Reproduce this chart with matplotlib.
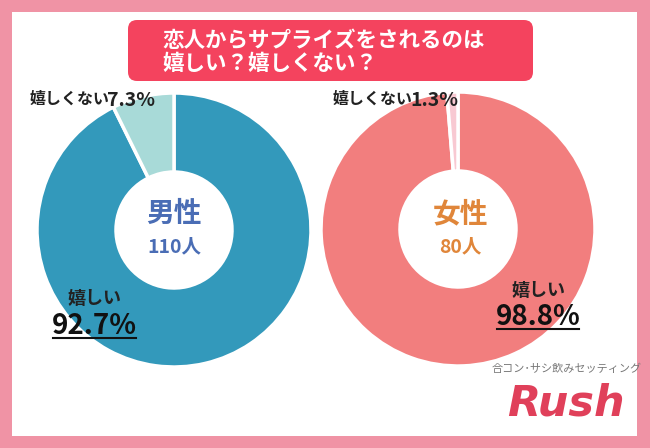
import matplotlib
matplotlib.use("Agg")
import matplotlib.pyplot as plt
from matplotlib.patches import FancyBboxPatch, Rectangle

plt.rcParams['font.family'] = ['Noto Sans CJK JP', 'DejaVu Sans']

title = "恋人からサプライズをされるのは\n嬉しい？嬉しくない？"
groups = ["男性", "女性"]
counts = ["110人", "80人"]
labels = ["嬉しい", "嬉しくない"]
male_values = [92.7, 7.3]
female_values = [98.8, 1.3]
male_colors = ["#3399BB", "#A8DAD8"]
female_colors = ["#F27E7E", "#F8C9D2"]

W, H = 650, 448
fig = plt.figure(figsize=(W / 100, H / 100), dpi=100)
fig.patch.set_facecolor("#F093A5")
ax = fig.add_axes([0, 0, 1, 1])
ax.set_xlim(0, W)
ax.set_ylim(0, H)
ax.set_aspect('equal')
ax.axis('off')

def Y(y):
    return H - y

# white panel
ax.add_patch(Rectangle((12, Y(436)), 625, 424, facecolor="white", edgecolor="none", zorder=0))

# title box
ax.add_patch(FancyBboxPatch((128, Y(81)), 405, 61, boxstyle="round,pad=0,rounding_size=9",
                            facecolor="#F4435E", edgecolor="none", zorder=1))
ax.text(162, Y(52), title, ha="left", va="center", color="white", fontsize=15.5,
        fontweight="bold", linespacing=1.1, zorder=2)

R, r = 137, 58
centers = [(174, Y(230)), (458, Y(229))]
for (cx, cy), vals, cols in zip(centers, [male_values, female_values], [male_colors, female_colors]):
    ax.pie(vals, colors=cols, startangle=90, counterclock=False, center=(cx, cy), radius=R,
           wedgeprops=dict(width=R - r, edgecolor="white", linewidth=2.5), frame=True)
ax.set_xlim(0, W)
ax.set_ylim(0, H)
ax.axis('off')

# center labels
ax.text(174, Y(214), groups[0], ha="center", va="center", color="#4A6DB5", fontsize=20, fontweight="bold")
ax.text(174, Y(247), counts[0], ha="center", va="center", color="#4A6DB5", fontsize=14, fontweight="bold")
ax.text(460, Y(214), groups[1], ha="center", va="center", color="#E0863A", fontsize=20, fontweight="bold")
ax.text(460, Y(247), counts[1], ha="center", va="center", color="#E0863A", fontsize=14, fontweight="bold")

# small-slice labels
def small_label(x_right, y, name, pct):
    t2 = ax.text(x_right, Y(y), f"{pct}%", ha="right", va="center", fontsize=14,
                 fontweight="bold", color="#222222")
    fig.canvas.draw()
    bb = t2.get_window_extent()
    ax.text(bb.x0 + 3, Y(y) + 1, name, ha="right", va="center", fontsize=11.5,
            fontweight="bold", color="#222222")

small_label(155, 100, labels[1], male_values[1])
small_label(458, 100, labels[1], female_values[1])

# big-slice labels
def big_label(xc, y1, y2, pct):
    ax.text(xc, Y(y1), labels[0], ha="center", va="center", fontsize=13,
            fontweight="bold", color="#222222")
    t = ax.text(xc, Y(y2), f"{pct}%", ha="center", va="center", fontsize=20,
                fontweight="bold", color="#111111")
    fig.canvas.draw()
    bb = t.get_window_extent()
    ax.plot([bb.x0 + 1, bb.x1 - 1], [Y(y2 + 12), Y(y2 + 12)], color="#111111", lw=1.5)

big_label(94, 299, 326, male_values[0])
big_label(538, 290, 317, female_values[0])

# branding
ax.text(567, Y(369), "合コン･サシ飲みセッティング", ha="center", va="center", fontsize=8,
        color="#777777")
ax.text(566, Y(404), "Rush", ha="center", va="center", fontsize=31, fontweight="bold",
        fontstyle="italic", color="#E0405A", family="DejaVu Sans")

fig.savefig("out.png", dpi=100, facecolor=fig.get_facecolor())
